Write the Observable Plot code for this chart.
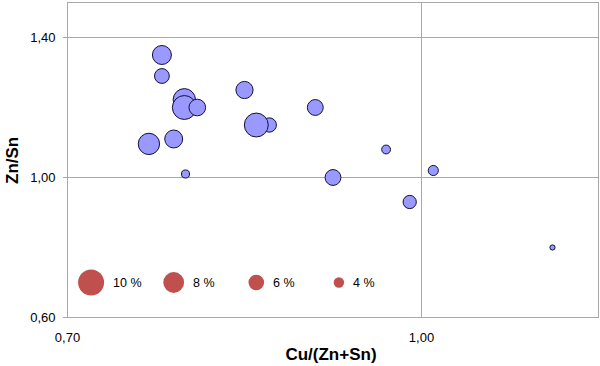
<!DOCTYPE html>
<html>
<head>
<meta charset="utf-8">
<script src="https://cdn.jsdelivr.net/npm/d3@7"></script>
<script src="https://cdn.jsdelivr.net/npm/@observablehq/plot@0.6"></script>
<style>
  html, body { margin: 0; padding: 0; background: #fff; }
  #chart { width: 600px; height: 366px; }
</style>
</head>
<body>
<div id="chart"></div>
<script>
// Bubble series: Cu/(Zn+Sn), Zn/Sn, size (%)
const cuRatio = [0.78, 0.78, 0.799, 0.799, 0.81, 0.769, 0.79, 0.80, 0.85, 0.871, 0.86, 0.91, 0.97, 0.925, 1.01, 0.99, 1.111];
const znSn    = [1.35, 1.29, 1.222, 1.20, 1.20, 1.096, 1.11, 1.01, 1.25, 1.15, 1.15, 1.20, 1.08, 1.00, 1.02, 0.93, 0.80];
const sizePct = [7.3, 5.7, 8.6, 9.2, 6.4, 8.2, 6.9, 3.1, 6.6, 5.5, 9.2, 6.1, 3.4, 6.1, 3.9, 5.1, 2.0];

// Size legend series (drawn inside the plot)
const legendValues = [10, 8, 6, 4];
const legendLabels = ["10 %", "8 %", "6 %", "4 %"];
const legendX = [0.72, 0.79, 0.86, 0.93];
const legendY = [0.70, 0.70, 0.70, 0.70];

// Tick values
const xTicks = [0.70, 1.00];
const yTicks = [0.60, 1.00, 1.40];

const xTitle = "Cu/(Zn+Sn)";
const yTitle = "Zn/Sn";

const bubbles = cuRatio.map((x, i) => ({x, y: znSn[i], s: sizePct[i]}));
const legend = legendValues.map((v, i) => ({v, x: legendX[i], y: legendY[i], label: legendLabels[i]}));

const rMax = 13;
const rPx = v => v / 10 * rMax;
const fmt = d => d.toFixed(2).replace(".", ",");
const gridColor = "#a8a8a8";

const chart = Plot.plot({
  width: 600,
  height: 366,
  marginLeft: 67,
  marginRight: 2,
  marginTop: 2,
  marginBottom: 49,
  style: {fontFamily: "'Liberation Sans', Arial, sans-serif", fontSize: "13px", color: "#000", background: "#fff"},
  x: {domain: [0.70, 1.15], label: null},
  y: {domain: [0.60, 1.50], label: null},
  r: {type: "linear", domain: [0, 10], range: [0, rMax]},
  marks: [
    Plot.gridX(xTicks, {stroke: gridColor, strokeOpacity: 1}),
    Plot.gridY(yTicks, {stroke: gridColor, strokeOpacity: 1}),
    Plot.frame({stroke: gridColor}),
    Plot.axisX(xTicks, {tickSize: 0, tickPadding: 15, tickFormat: fmt, fontSize: 13, label: null}),
    Plot.axisY(yTicks, {tickSize: 4, tickPadding: 8, tickFormat: fmt, stroke: gridColor, fontSize: 13, label: null}),
    Plot.dot(bubbles, {x: "x", y: "y", r: "s", fill: "#9999ff", stroke: "#10103a", strokeWidth: 1, sort: null}),
    Plot.dot(legend, {x: "x", y: "y", r: "v", fill: "#c0504d", stroke: "none", sort: null}),
    ...legend.map(d => Plot.text([d], {x: "x", y: "y", text: "label", textAnchor: "start", lineAnchor: "middle", dx: rPx(d.v) + 9, fontSize: 12.5, fill: "#000"})),
    Plot.text([xTitle], {frameAnchor: "bottom", dy: 37, dx: -2, lineAnchor: "middle", fontSize: 17, fontWeight: "bold", fill: "#000"}),
    Plot.text([yTitle], {frameAnchor: "left", dx: -55, dy: 24, rotate: -90, lineAnchor: "middle", fontSize: 17, fontWeight: "bold", fill: "#000"})
  ]
});

document.getElementById("chart").appendChild(chart);
</script>
</body>
</html>
